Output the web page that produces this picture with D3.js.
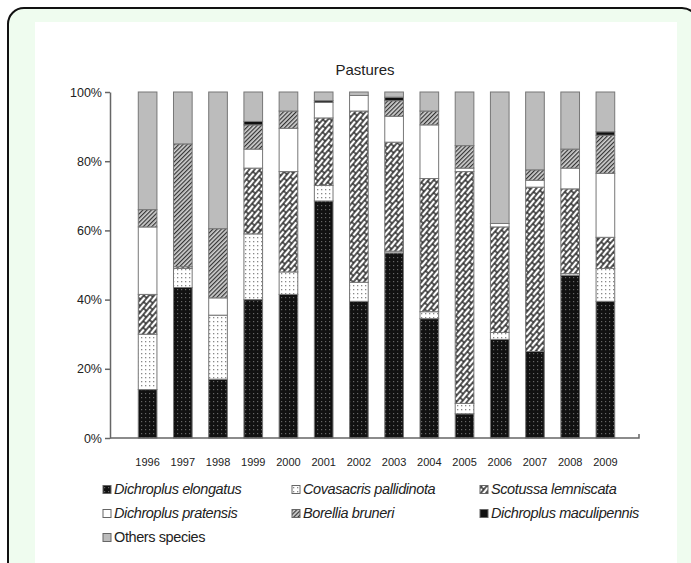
<!DOCTYPE html>
<html>
<head>
<meta charset="utf-8">
<script src="https://cdn.jsdelivr.net/npm/d3@7"></script>
<style>
  body { margin: 0; background: #fff; }
  text { font-family: "Liberation Sans", Arial, sans-serif; fill: #222; }
</style>
</head>
<body>
<div id="chart"></div>
<script>
let years = ["1996","1997","1998","1999","2000","2001","2002","2003","2004","2005","2006","2007","2008","2009"];

let species = ["Dichroplus elongatus", "Covasacris pallidinota", "Scotussa lemniscata",
               "Dichroplus pratensis", "Borellia bruneri", "Dichroplus maculipennis", "Others species"];

let elongatus    = [14, 43.5, 17, 40, 41.5, 68.5, 39.5, 53.5, 34.5, 7, 28.5, 25, 47, 39.5];
let covasacris   = [16, 5.5, 18.5, 19, 6.5, 4.5, 5.5, 0.5, 2, 3, 2, 0, 0.5, 9.5];
let scotussa     = [11.5, 0.5, 0, 19, 29, 19.5, 49.5, 31.5, 38.5, 67, 30.5, 47.5, 24.5, 9];
let pratensis    = [19.5, 0, 5, 5.5, 12.5, 4.5, 4.5, 7.5, 15.5, 1, 1, 2, 6, 18.5];
let borellia     = [5, 35.5, 20, 7, 5, 0, 0, 4.5, 4, 6.5, 0, 3, 5.5, 11];
let maculipennis = [0, 0, 0, 1, 0, 0.5, 0, 1, 0, 0, 0, 0, 0, 1];
let others       = [34, 15, 39.5, 8.5, 5.5, 2.5, 1, 1.5, 5.5, 15.5, 38, 22.5, 16.5, 11.5];

let yTicks = [0, 20, 40, 60, 80, 100];

let series = [elongatus, covasacris, scotussa, pratensis, borellia, maculipennis, others];
let rows = years.map(function(y, i) {
  let r = {year: y};
  species.forEach(function(s, k) { r[s] = series[k][i]; });
  return r;
});

let width = 691, height = 563;

let svg = d3.select("#chart").append("svg")
    .attr("width", width)
    .attr("height", height);

// patterns
let defs = svg.append("defs");

let p1 = defs.append("pattern").attr("id", "pElong")
    .attr("width", 4).attr("height", 4).attr("patternUnits", "userSpaceOnUse");
p1.append("rect").attr("width", 4).attr("height", 4).attr("fill", "#111");
p1.append("rect").attr("x", 1).attr("y", 1).attr("width", 1.2).attr("height", 1.2).attr("fill", "#666");

let p2 = defs.append("pattern").attr("id", "pCovas")
    .attr("width", 4).attr("height", 4).attr("patternUnits", "userSpaceOnUse");
p2.append("rect").attr("width", 4).attr("height", 4).attr("fill", "#fff");
p2.append("rect").attr("x", 1).attr("y", 1).attr("width", 1.3).attr("height", 1.3).attr("fill", "#888");

// brick weave, rotated
let p3 = defs.append("pattern").attr("id", "pScot")
    .attr("width", 10).attr("height", 8).attr("patternUnits", "userSpaceOnUse")
    .attr("patternTransform", "rotate(-50)");
p3.append("rect").attr("width", 10).attr("height", 8).attr("fill", "#fff");
p3.append("path")
    .attr("d", "M0,0H10M0,4H10M0,8H10M1,0V4M6,4V8")
    .attr("stroke", "#222").attr("stroke-width", 1.4).attr("fill", "none");

let p5 = defs.append("pattern").attr("id", "pBor")
    .attr("width", 3).attr("height", 3).attr("patternUnits", "userSpaceOnUse")
    .attr("patternTransform", "rotate(45)");
p5.append("rect").attr("width", 3).attr("height", 3).attr("fill", "#d0d0d0");
p5.append("rect").attr("width", 1.2).attr("height", 3).attr("fill", "#333");

let fills = ["url(#pElong)", "url(#pCovas)", "url(#pScot)", "#fff", "url(#pBor)", "#111", "#bcbcbc"];

// frame
svg.append("rect")
    .attr("x", 8).attr("y", 8).attr("width", 690).attr("height", 620)
    .attr("rx", 16)
    .attr("fill", "#effcef").attr("stroke", "#111").attr("stroke-width", 2);
svg.append("rect")
    .attr("x", 35).attr("y", 22).attr("width", 642).attr("height", 560)
    .attr("fill", "#fff");

let x = d3.scaleBand().domain(years).range([130, 623]).paddingInner(0.47).paddingOuter(0.235);
let y = d3.scaleLinear().domain([0, 100]).range([438, 92]);

svg.append("text")
    .attr("x", 365).attr("y", 75)
    .attr("text-anchor", "middle")
    .style("font-size", "15px")
    .text("Pastures");

// bars
let stack = d3.stack().keys(species);
let layers = stack(rows);

svg.append("g").selectAll("g")
  .data(layers)
  .enter().append("g")
    .attr("fill", function(d, i) { return fills[i]; })
  .selectAll("rect")
  .data(function(d) { return d; })
  .enter().append("rect")
    .attr("x", function(d) { return x(d.data.year); })
    .attr("width", x.bandwidth())
    .attr("y", function(d) { return y(d[1]); })
    .attr("height", function(d) { return y(d[0]) - y(d[1]); })
    .attr("stroke", "#777")
    .attr("stroke-width", function(d) { return d[1] > d[0] ? 1 : 0; });

// y axis
let yAxis = svg.append("g")
    .attr("transform", "translate(110,0)")
    .call(d3.axisLeft(y).tickValues(yTicks).tickSize(5).tickSizeOuter(0)
      .tickFormat(function(d) { return d + "%"; }));
yAxis.select(".domain").attr("stroke", "#666").attr("stroke-width", 1.5);
yAxis.selectAll(".tick line").attr("stroke", "#666").attr("stroke-width", 1.5);
yAxis.selectAll("text").attr("x", -8).style("font-size", "12.5px")
    .style("font-family", "'Liberation Sans', Arial, sans-serif").attr("fill", "#222");

// x axis
let xAxis = svg.append("g")
    .attr("transform", "translate(0,438)")
    .call(d3.axisBottom(x).tickSize(0).tickSizeOuter(0));
xAxis.select(".domain").remove();
xAxis.append("path")
    .attr("d", "M110,0H639V-4")
    .attr("stroke", "#666").attr("stroke-width", 1.5).attr("fill", "none");
xAxis.selectAll("text").attr("y", 20).style("font-size", "11px")
    .style("font-family", "'Liberation Sans', Arial, sans-serif").attr("fill", "#222");

// legend
let legCols = [103, 292, 480];
let legRows = [494, 518, 542];

let leg = svg.append("g").selectAll("g")
  .data(species)
  .enter().append("g")
    .attr("transform", function(d, i) {
      return "translate(" + legCols[i % 3] + "," + legRows[Math.floor(i / 3)] + ")";
    });

leg.append("rect")
    .attr("x", 0).attr("y", -8.5).attr("width", 8).attr("height", 8)
    .attr("fill", function(d, i) { return fills[i]; })
    .attr("stroke", "#666").attr("stroke-width", 1);

leg.append("text")
    .attr("x", 11).attr("y", 0)
    .style("font-size", "14.5px")
    .style("font-style", function(d, i) { return i === 6 ? "normal" : "italic"; })
    .style("letter-spacing", "-0.4px")
    .text(function(d) { return d; });
</script>
</body>
</html>
